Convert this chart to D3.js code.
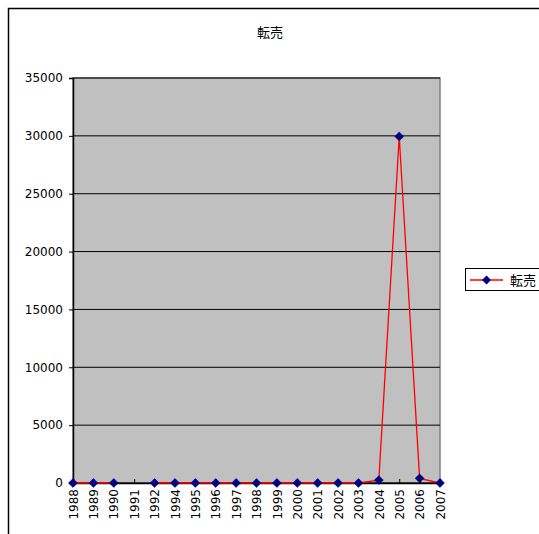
<!DOCTYPE html>
<html><head><meta charset="utf-8">
<script src="https://cdn.jsdelivr.net/npm/d3@7"></script>
<style>body{margin:0;background:#fff}svg{display:block}</style>
</head><body>
<svg id="c" width="539" height="534"></svg>
<script>
const title = "転売";
const seriesName = "転売";
const years = ["1988","1989","1990","1991","1992","1994","1995","1996","1997","1998","1999","2000","2001","2002","2003","2004","2005","2006","2007"];
const sales = [0,0,0,null,0,0,0,0,0,0,0,0,0,0,0,250,29950,400,0];
const yTicks = [0,5000,10000,15000,20000,25000,30000,35000];

const svg = d3.select("#c");
const L = 73, R = 440, T = 78, B = 483;
const font = "'DejaVu Sans', sans-serif";

// outer frame
svg.append("path").attr("d", `M8.5,534 V8.5 H539`).attr("fill","none").attr("stroke","#000").attr("stroke-width",1.5);

svg.append("text").attr("x",270).attr("y",37).attr("text-anchor","middle")
  .attr("font-family","'Noto Sans CJK JP', sans-serif").attr("font-size",13).text(title);

const x = d3.scalePoint().domain(years).range([L,R]);
const y = d3.scaleLinear().domain([0,35000]).range([B,T]);

// plot area
svg.append("rect").attr("x",L).attr("y",T).attr("width",R-L).attr("height",B-T)
  .attr("fill","#C0C0C0").attr("stroke","#808080").attr("stroke-width",1.5);

// gridlines
svg.append("g").selectAll("line").data(yTicks).join("line")
  .attr("x1",L).attr("x2",R).attr("y1",d=>y(d)).attr("y2",d=>y(d))
  .attr("stroke","#000").attr("stroke-width",1);

// y axis
const ya = svg.append("g").attr("transform",`translate(${L},0)`)
  .call(d3.axisLeft(y).tickValues(yTicks).tickSize(4).tickPadding(6).tickFormat(d3.format("d")));
ya.select(".domain").attr("stroke","#000").attr("stroke-width",1.5);
ya.selectAll("text").attr("font-family",font).attr("font-size",12).attr("fill","#000");

// x axis
const xa = svg.append("g").attr("transform",`translate(0,${B})`)
  .call(d3.axisBottom(x).tickSize(-4).tickPadding(5));
xa.select(".domain").attr("stroke","#000").attr("stroke-width",1.5);
xa.selectAll("text").attr("font-family",font).attr("font-size",12).attr("fill","#000")
  .attr("transform","rotate(-90)").attr("text-anchor","end").attr("dy","0.35em")
  .attr("x",-6).attr("y",0);

// line
const pts = years.map((c,i)=>({c, v:sales[i]}));
svg.append("path").datum(pts)
  .attr("d", d3.line().defined(d=>d.v!=null).x(d=>x(d.c)).y(d=>y(d.v)))
  .attr("fill","none").attr("stroke","#FF0000").attr("stroke-width",1.3);

svg.append("g").selectAll("path").data(pts.filter(d=>d.v!=null)).join("path")
  .attr("d", d3.symbol().type(d3.symbolSquare).size(40))
  .attr("transform",d=>`translate(${x(d.c)},${y(d.v)}) rotate(45)`)
  .attr("fill","#000080").attr("stroke","#000080").attr("stroke-width",0.5);

// legend
const lg = svg.append("g");
lg.append("rect").attr("x",465.5).attr("y",268.5).attr("width",80).attr("height",22)
  .attr("fill","#fff").attr("stroke","#000").attr("stroke-width",1);
lg.append("line").attr("x1",470).attr("x2",503).attr("y1",280).attr("y2",280)
  .attr("stroke","#FF0000").attr("stroke-width",1.3);
lg.append("path").attr("d", d3.symbol().type(d3.symbolSquare).size(40))
  .attr("transform","translate(486.5,280) rotate(45)").attr("fill","#000080");
lg.append("text").attr("x",510).attr("y",285).attr("font-family","'Noto Sans CJK JP', sans-serif")
  .attr("font-size",13).text(seriesName);
</script>
</body></html>
